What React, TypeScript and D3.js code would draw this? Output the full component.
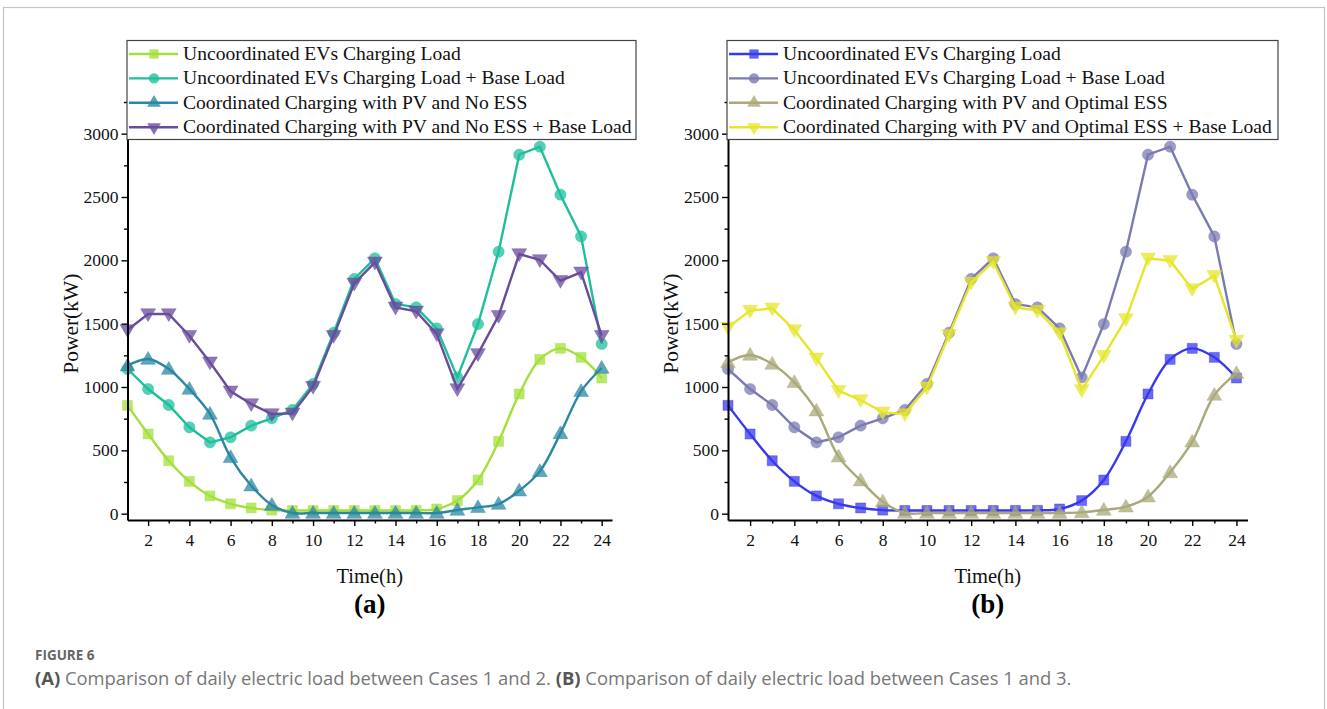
import React, { useRef, useEffect } from 'react';
import * as d3 from 'd3';

const hours = [1, 2, 3, 4, 5, 6, 7, 8, 9, 10, 11, 12, 13, 14, 15, 16, 17, 18, 19, 20, 21, 22, 23, 24];

// uncoordinated EV charging load (same in both panels)
const evLoad = [855, 629, 418, 255, 140, 78, 45, 28, 25, 25, 25, 25, 25, 25, 26, 37, 103, 266, 571, 945, 1218, 1305, 1234, 1071];
const evPlusBase = [1142, 984, 858, 682, 563, 603, 695, 753, 819, 1024, 1429, 1853, 2016, 1655, 1629, 1463, 1076, 1497, 2068, 2834, 2897, 2518, 2189, 1340];
// case 2: coordinated with PV, no ESS
const pvNoEss = [1168, 1221, 1142, 984, 787, 445, 221, 68, 5, 5, 5, 5, 5, 5, 5, 5, 29, 50, 76, 181, 334, 634, 966, 1150];
const pvNoEssPlusBase = [1450, 1576, 1576, 1405, 1195, 966, 866, 787, 792, 1003, 1405, 1818, 1984, 1629, 1597, 1418, 984, 1261, 1563, 2050, 2003, 1839, 1905, 1405];
// case 3: coordinated with PV and optimal ESS
const pvOptEss = [1195, 1253, 1182, 1037, 813, 450, 261, 95, 5, 5, 5, 5, 5, 5, 5, 5, 10, 29, 55, 134, 326, 568, 937, 1108];
const pvOptEssPlusBase = [1471, 1603, 1621, 1450, 1226, 971, 897, 800, 787, 997, 1413, 1826, 1989, 1629, 1603, 1426, 977, 1247, 1537, 2016, 1997, 1774, 1879, 1366];

const labelsA = [
  'Uncoordinated EVs Charging Load',
  'Uncoordinated EVs Charging Load + Base Load',
  'Coordinated Charging with PV and No ESS',
  'Coordinated Charging with PV and No ESS + Base Load',
];
const labelsB = [
  'Uncoordinated EVs Charging Load',
  'Uncoordinated EVs Charging Load + Base Load',
  'Coordinated Charging with PV and Optimal ESS',
  'Coordinated Charging with PV and Optimal ESS + Base Load',
];

const yTicks = [0, 500, 1000, 1500, 2000, 2500, 3000];
const yMinor = [250, 750, 1250, 1750, 2250, 2750, 3250];
const xTicks = [2, 4, 6, 8, 10, 12, 14, 16, 18, 20, 22, 24];
const xMinor = [3, 5, 7, 9, 11, 13, 15, 17, 19, 21, 23];

const SERIF = '"Liberation Serif", "Times New Roman", serif';
const SANS = '"Open Sans", "Noto Sans", sans-serif';

const symbols = [d3.symbolSquare, d3.symbolCircle, d3.symbolTriangle, d3.symbolTriangle];
const symSize = [100, 100, 95, 95];
const symRot = [0, 0, 0, 180];

function drawPanel(svg, p) {
  const x = d3.scaleLinear().domain([1, 24.5]).range([p.left, p.right]);
  const y = d3.scaleLinear().domain([-50, 3250]).range([520, 102]);
  const g = svg.append('g');

  p.series.forEach((vals, i) => {
    const pts = hours.map((h, k) => [h, vals[k]]);
    const line = d3.line()
      .x(d => x(d[0]))
      .y(d => y(d[1]))
      .curve(p.smooth[i] ? d3.curveCatmullRom : d3.curveLinear);
    g.append('path')
      .attr('d', line(pts))
      .attr('fill', 'none')
      .attr('stroke', p.colors[i])
      .attr('stroke-width', 2.4);
    g.selectAll(null)
      .data(pts)
      .join('path')
      .attr('d', d3.symbol().type(symbols[i]).size(symSize[i]))
      .attr('transform', d => `translate(${x(d[0])},${y(d[1]) + (i >= 2 ? (i === 2 ? 1 : -1) : 0)}) rotate(${symRot[i]})`)
      .attr('fill', p.colors[i])
      .attr('fill-opacity', 0.75)
      .attr('stroke', p.colors[i])
      .attr('stroke-opacity', 0.4)
      .attr('stroke-width', 1);
  });

  // axes
  const ya = g.append('g').attr('transform', `translate(${p.left},0)`)
    .call(d3.axisLeft(y).tickValues(yTicks).tickFormat(d3.format('d')).tickSize(6).tickSizeOuter(0).tickPadding(3));
  g.append('g').attr('transform', `translate(${p.left},0)`)
    .call(d3.axisLeft(y).tickValues(yMinor).tickSize(3.5).tickSizeOuter(0).tickFormat(() => ''))
    .select('.domain').remove();
  const xa = g.append('g').attr('transform', 'translate(0,520)')
    .call(d3.axisBottom(x).tickValues(xTicks).tickFormat(d3.format('d')).tickSize(6).tickSizeOuter(0).tickPadding(8));
  g.append('g').attr('transform', 'translate(0,520)')
    .call(d3.axisBottom(x).tickValues(xMinor).tickSize(3.5).tickSizeOuter(0).tickFormat(() => ''))
    .select('.domain').remove();
  [ya, xa].forEach(a => {
    a.attr('font-family', null).attr('font-size', null);
    a.select('.domain').attr('stroke', '#000').attr('stroke-width', 2);
    a.selectAll('text')
      .style('font-family', SERIF).style('font-size', '17.5px').attr('fill', '#111');
  });
  g.selectAll('.tick line').attr('stroke', '#000').attr('stroke-width', 1.4);

  // axis titles
  g.append('text')
    .attr('transform', `translate(${p.left - 50},${y(1500)}) rotate(-90)`)
    .attr('text-anchor', 'middle')
    .style('font-family', SERIF).style('font-size', '21.5px').attr('fill', '#111')
    .text('Power(kW)');
  const cx = (p.left + p.right) / 2;
  g.append('text')
    .attr('x', cx).attr('y', 583)
    .attr('text-anchor', 'middle')
    .style('font-family', SERIF).style('font-size', '20.5px').attr('fill', '#111')
    .text('Time(h)');
  g.append('text')
    .attr('x', cx).attr('y', 613)
    .attr('text-anchor', 'middle')
    .style('font-family', SERIF).style('font-size', '27px').attr('font-weight', 'bold').attr('fill', '#000')
    .text(p.tag);

  // legend
  const lg = g.append('g');
  lg.append('rect')
    .attr('x', p.legend[0]).attr('y', 40.5)
    .attr('width', p.legend[1] - p.legend[0]).attr('height', 99)
    .attr('fill', '#fff').attr('stroke', '#444').attr('stroke-width', 1.2);
  p.labels.forEach((lab, i) => {
    const ry = 54 + i * 24.4;
    const lx = p.legend[0] + 2;
    lg.append('line')
      .attr('x1', lx).attr('x2', lx + 49).attr('y1', ry).attr('y2', ry)
      .attr('stroke', p.colors[i]).attr('stroke-width', 2.4);
    lg.append('path')
      .attr('d', d3.symbol().type(symbols[i]).size(symSize[i] * 0.85)())
      .attr('transform', `translate(${lx + 25},${ry}) rotate(${symRot[i]})`)
      .attr('fill', p.colors[i]).attr('fill-opacity', 0.8);
    lg.append('text')
      .attr('x', lx + 54).attr('y', ry + 6)
      .style('font-family', SERIF).style('font-size', '19.6px').attr('fill', '#111')
      .text(lab);
  });
}

const App = () => {
  const svgRef = useRef(null);

  useEffect(() => {
    const svg = d3.select(svgRef.current);
    svg.selectAll('*').remove();

    svg.append('rect')
      .attr('x', 3.5).attr('y', 7.5).attr('width', 1321).attr('height', 720)
      .attr('fill', '#fff').attr('stroke', '#c4c4c4').attr('stroke-width', 1.2);

    drawPanel(svg, {
      left: 127.5, right: 612, tag: '(a)', legend: [127, 636],
      labels: labelsA,
      colors: ['#a3e03b', '#1fbf9c', '#2b88a3', '#6a4c9c'],
      smooth: [true, false, true, false],
      series: [evLoad, evPlusBase, pvNoEss, pvNoEssPlusBase],
    });
    drawPanel(svg, {
      left: 728, right: 1247.5, tag: '(b)', legend: [727, 1278],
      labels: labelsB,
      colors: ['#3838ee', '#7b7bb3', '#aaa97b', '#e6e62c'],
      smooth: [true, false, true, false],
      series: [evLoad, evPlusBase, pvOptEss, pvOptEssPlusBase],
    });

    svg.append('text')
      .attr('x', 35).attr('y', 660)
      .style('font-family', SANS).style('font-size', '13.5px').attr('font-weight', 'bold').attr('fill', '#666')
      .text('FIGURE 6');
    const cap = svg.append('text')
      .attr('x', 35).attr('y', 685)
      .style('font-family', SANS).style('font-size', '18.4px').attr('fill', '#777');
    cap.append('tspan').attr('font-weight', 'bold').attr('fill', '#555').text('(A)');
    cap.append('tspan').text(' Comparison of daily electric load between Cases 1 and 2. ');
    cap.append('tspan').attr('font-weight', 'bold').attr('fill', '#555').text('(B)');
    cap.append('tspan').text(' Comparison of daily electric load between Cases 1 and 3.');
  }, []);

  return (
    <svg ref={svgRef} width={1327} height={709}
      style={{ position: 'absolute', left: 0, top: 0, background: '#fff' }} />
  );
};

export default App;
